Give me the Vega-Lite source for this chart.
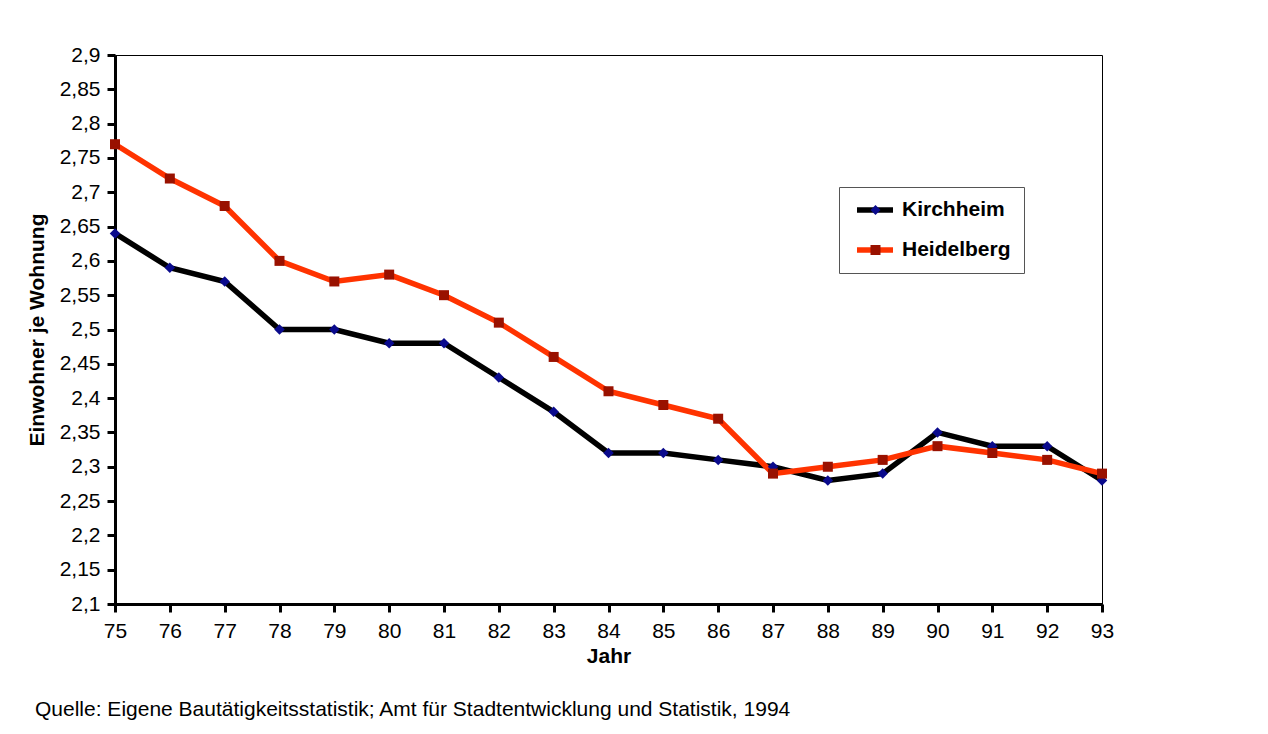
{
  "$schema": "https://vega.github.io/schema/vega-lite/v6.json",
  "width": 987,
  "height": 549,
  "autosize": {"type": "none"},
  "padding": {"left": 115, "top": 55, "right": 166, "bottom": 130},
  "background": "white",
  "config": {
    "view": {"stroke": "#000", "strokeWidth": 1},
    "font": "Liberation Sans",
    "axis": {
      "domainColor": "#000", "domainWidth": 3, "tickColor": "#000", "tickWidth": 3, "tickSize": 8,
      "labelFont": "Liberation Sans", "labelFontSize": 21, "labelColor": "#000",
      "titleFont": "Liberation Sans", "titleFontSize": 21, "titleFontWeight": "bold", "titleColor": "#000",
      "grid": false
    }
  },
  "title": {
    "text": "Quelle: Eigene Bautätigkeitsstatistik; Amt für Stadtentwicklung und Statistik, 1994",
    "orient": "bottom", "anchor": "start", "frame": "group", "dx": -80, "offset": 33,
    "font": "Liberation Sans", "fontSize": 21, "fontWeight": "normal", "color": "#000"
  },
  "data": {
    "values": [
      {"Jahr": 75, "Ort": "Kirchheim", "Wert": 2.64},
      {"Jahr": 76, "Ort": "Kirchheim", "Wert": 2.59},
      {"Jahr": 77, "Ort": "Kirchheim", "Wert": 2.57},
      {"Jahr": 78, "Ort": "Kirchheim", "Wert": 2.50},
      {"Jahr": 79, "Ort": "Kirchheim", "Wert": 2.50},
      {"Jahr": 80, "Ort": "Kirchheim", "Wert": 2.48},
      {"Jahr": 81, "Ort": "Kirchheim", "Wert": 2.48},
      {"Jahr": 82, "Ort": "Kirchheim", "Wert": 2.43},
      {"Jahr": 83, "Ort": "Kirchheim", "Wert": 2.38},
      {"Jahr": 84, "Ort": "Kirchheim", "Wert": 2.32},
      {"Jahr": 85, "Ort": "Kirchheim", "Wert": 2.32},
      {"Jahr": 86, "Ort": "Kirchheim", "Wert": 2.31},
      {"Jahr": 87, "Ort": "Kirchheim", "Wert": 2.30},
      {"Jahr": 88, "Ort": "Kirchheim", "Wert": 2.28},
      {"Jahr": 89, "Ort": "Kirchheim", "Wert": 2.29},
      {"Jahr": 90, "Ort": "Kirchheim", "Wert": 2.35},
      {"Jahr": 91, "Ort": "Kirchheim", "Wert": 2.33},
      {"Jahr": 92, "Ort": "Kirchheim", "Wert": 2.33},
      {"Jahr": 93, "Ort": "Kirchheim", "Wert": 2.28},
      {"Jahr": 75, "Ort": "Heidelberg", "Wert": 2.77},
      {"Jahr": 76, "Ort": "Heidelberg", "Wert": 2.72},
      {"Jahr": 77, "Ort": "Heidelberg", "Wert": 2.68},
      {"Jahr": 78, "Ort": "Heidelberg", "Wert": 2.60},
      {"Jahr": 79, "Ort": "Heidelberg", "Wert": 2.57},
      {"Jahr": 80, "Ort": "Heidelberg", "Wert": 2.58},
      {"Jahr": 81, "Ort": "Heidelberg", "Wert": 2.55},
      {"Jahr": 82, "Ort": "Heidelberg", "Wert": 2.51},
      {"Jahr": 83, "Ort": "Heidelberg", "Wert": 2.46},
      {"Jahr": 84, "Ort": "Heidelberg", "Wert": 2.41},
      {"Jahr": 85, "Ort": "Heidelberg", "Wert": 2.39},
      {"Jahr": 86, "Ort": "Heidelberg", "Wert": 2.37},
      {"Jahr": 87, "Ort": "Heidelberg", "Wert": 2.29},
      {"Jahr": 88, "Ort": "Heidelberg", "Wert": 2.30},
      {"Jahr": 89, "Ort": "Heidelberg", "Wert": 2.31},
      {"Jahr": 90, "Ort": "Heidelberg", "Wert": 2.33},
      {"Jahr": 91, "Ort": "Heidelberg", "Wert": 2.32},
      {"Jahr": 92, "Ort": "Heidelberg", "Wert": 2.31},
      {"Jahr": 93, "Ort": "Heidelberg", "Wert": 2.29}
    ]
  },
  "encoding": {
    "x": {
      "field": "Jahr", "type": "quantitative",
      "scale": {"domain": [75, 93], "nice": false, "zero": false},
      "axis": {
        "title": "Jahr",
        "values": [75,76,77,78,79,80,81,82,83,84,85,86,87,88,89,90,91,92,93],
        "labelPadding": 8, "labelFlush": false, "labelOverlap": false,
        "titleX": 493.5, "titleY": 52, "titleBaseline": "middle", "titleAlign": "center"
      }
    },
    "y": {
      "field": "Wert", "type": "quantitative",
      "scale": {"domain": [2.1, 2.9], "nice": false, "zero": false},
      "axis": {
        "title": "Einwohner je Wohnung",
        "values": [2.1,2.15,2.2,2.25,2.3,2.35,2.4,2.45,2.5,2.55,2.6,2.65,2.7,2.75,2.8,2.85,2.9],
        "labelExpr": "replace(format(datum.value, '.2~f'), '.', ',')",
        "labelPadding": 7, "labelOverlap": false, "labelFlush": false,
        "titleX": -78, "titleY": 274.5, "titleAngle": 270, "titleBaseline": "middle", "titleAlign": "center"
      }
    }
  },
  "layer": [
    {
      "mark": {"type": "line", "strokeWidth": 5.5, "clip": false},
      "encoding": {
        "color": {
          "field": "Ort", "type": "nominal", "sort": ["Kirchheim", "Heidelberg"],
          "scale": {"range": ["#000000", "#ff3300"]},
          "legend": {
            "title": null, "orient": "none", "legendX": 724, "legendY": 132,
            "symbolType": "stroke", "symbolSize": 1296, "symbolStrokeWidth": 5.5,
            "symbolOffset": 2,
            "labelFont": "Liberation Sans", "labelFontSize": 21, "labelFontWeight": "bold", "labelColor": "#000",
            "labelExpr": "datum.label + '  '",
            "labelOffset": 6, "rowPadding": 19, "clipHeight": 20, "padding": 13,
            "strokeColor": "#555", "fillColor": "white"
          }
        }
      }
    },
    {
      "mark": {"type": "point", "filled": true, "opacity": 1, "clip": false},
      "encoding": {
        "fill": {
          "field": "Ort", "type": "nominal",
          "scale": {"domain": ["Kirchheim", "Heidelberg"], "range": ["#0a0a8c", "#991100"]},
          "legend": {
            "title": null, "orient": "none", "legendX": 737, "legendY": 132,
            "symbolSize": 100, "symbolStrokeWidth": 0,
            "labelFontSize": 21, "labelExpr": "''",
            "labelOffset": 6, "rowPadding": 19, "clipHeight": 20, "padding": 13
          }
        },
        "shape": {
          "field": "Ort", "type": "nominal",
          "scale": {"domain": ["Kirchheim", "Heidelberg"], "range": ["diamond", "square"]},
          "legend": {
            "title": null, "orient": "none", "legendX": 737, "legendY": 132,
            "symbolSize": 100, "symbolStrokeWidth": 0,
            "labelFontSize": 21, "labelExpr": "''",
            "labelOffset": 6, "rowPadding": 19, "clipHeight": 20, "padding": 13
          }
        },
        "size": {
          "field": "Ort", "type": "nominal", "sort": ["Kirchheim", "Heidelberg"],
          "scale": {"range": [110, 100]},
          "legend": null
        }
      }
    }
  ]
}
